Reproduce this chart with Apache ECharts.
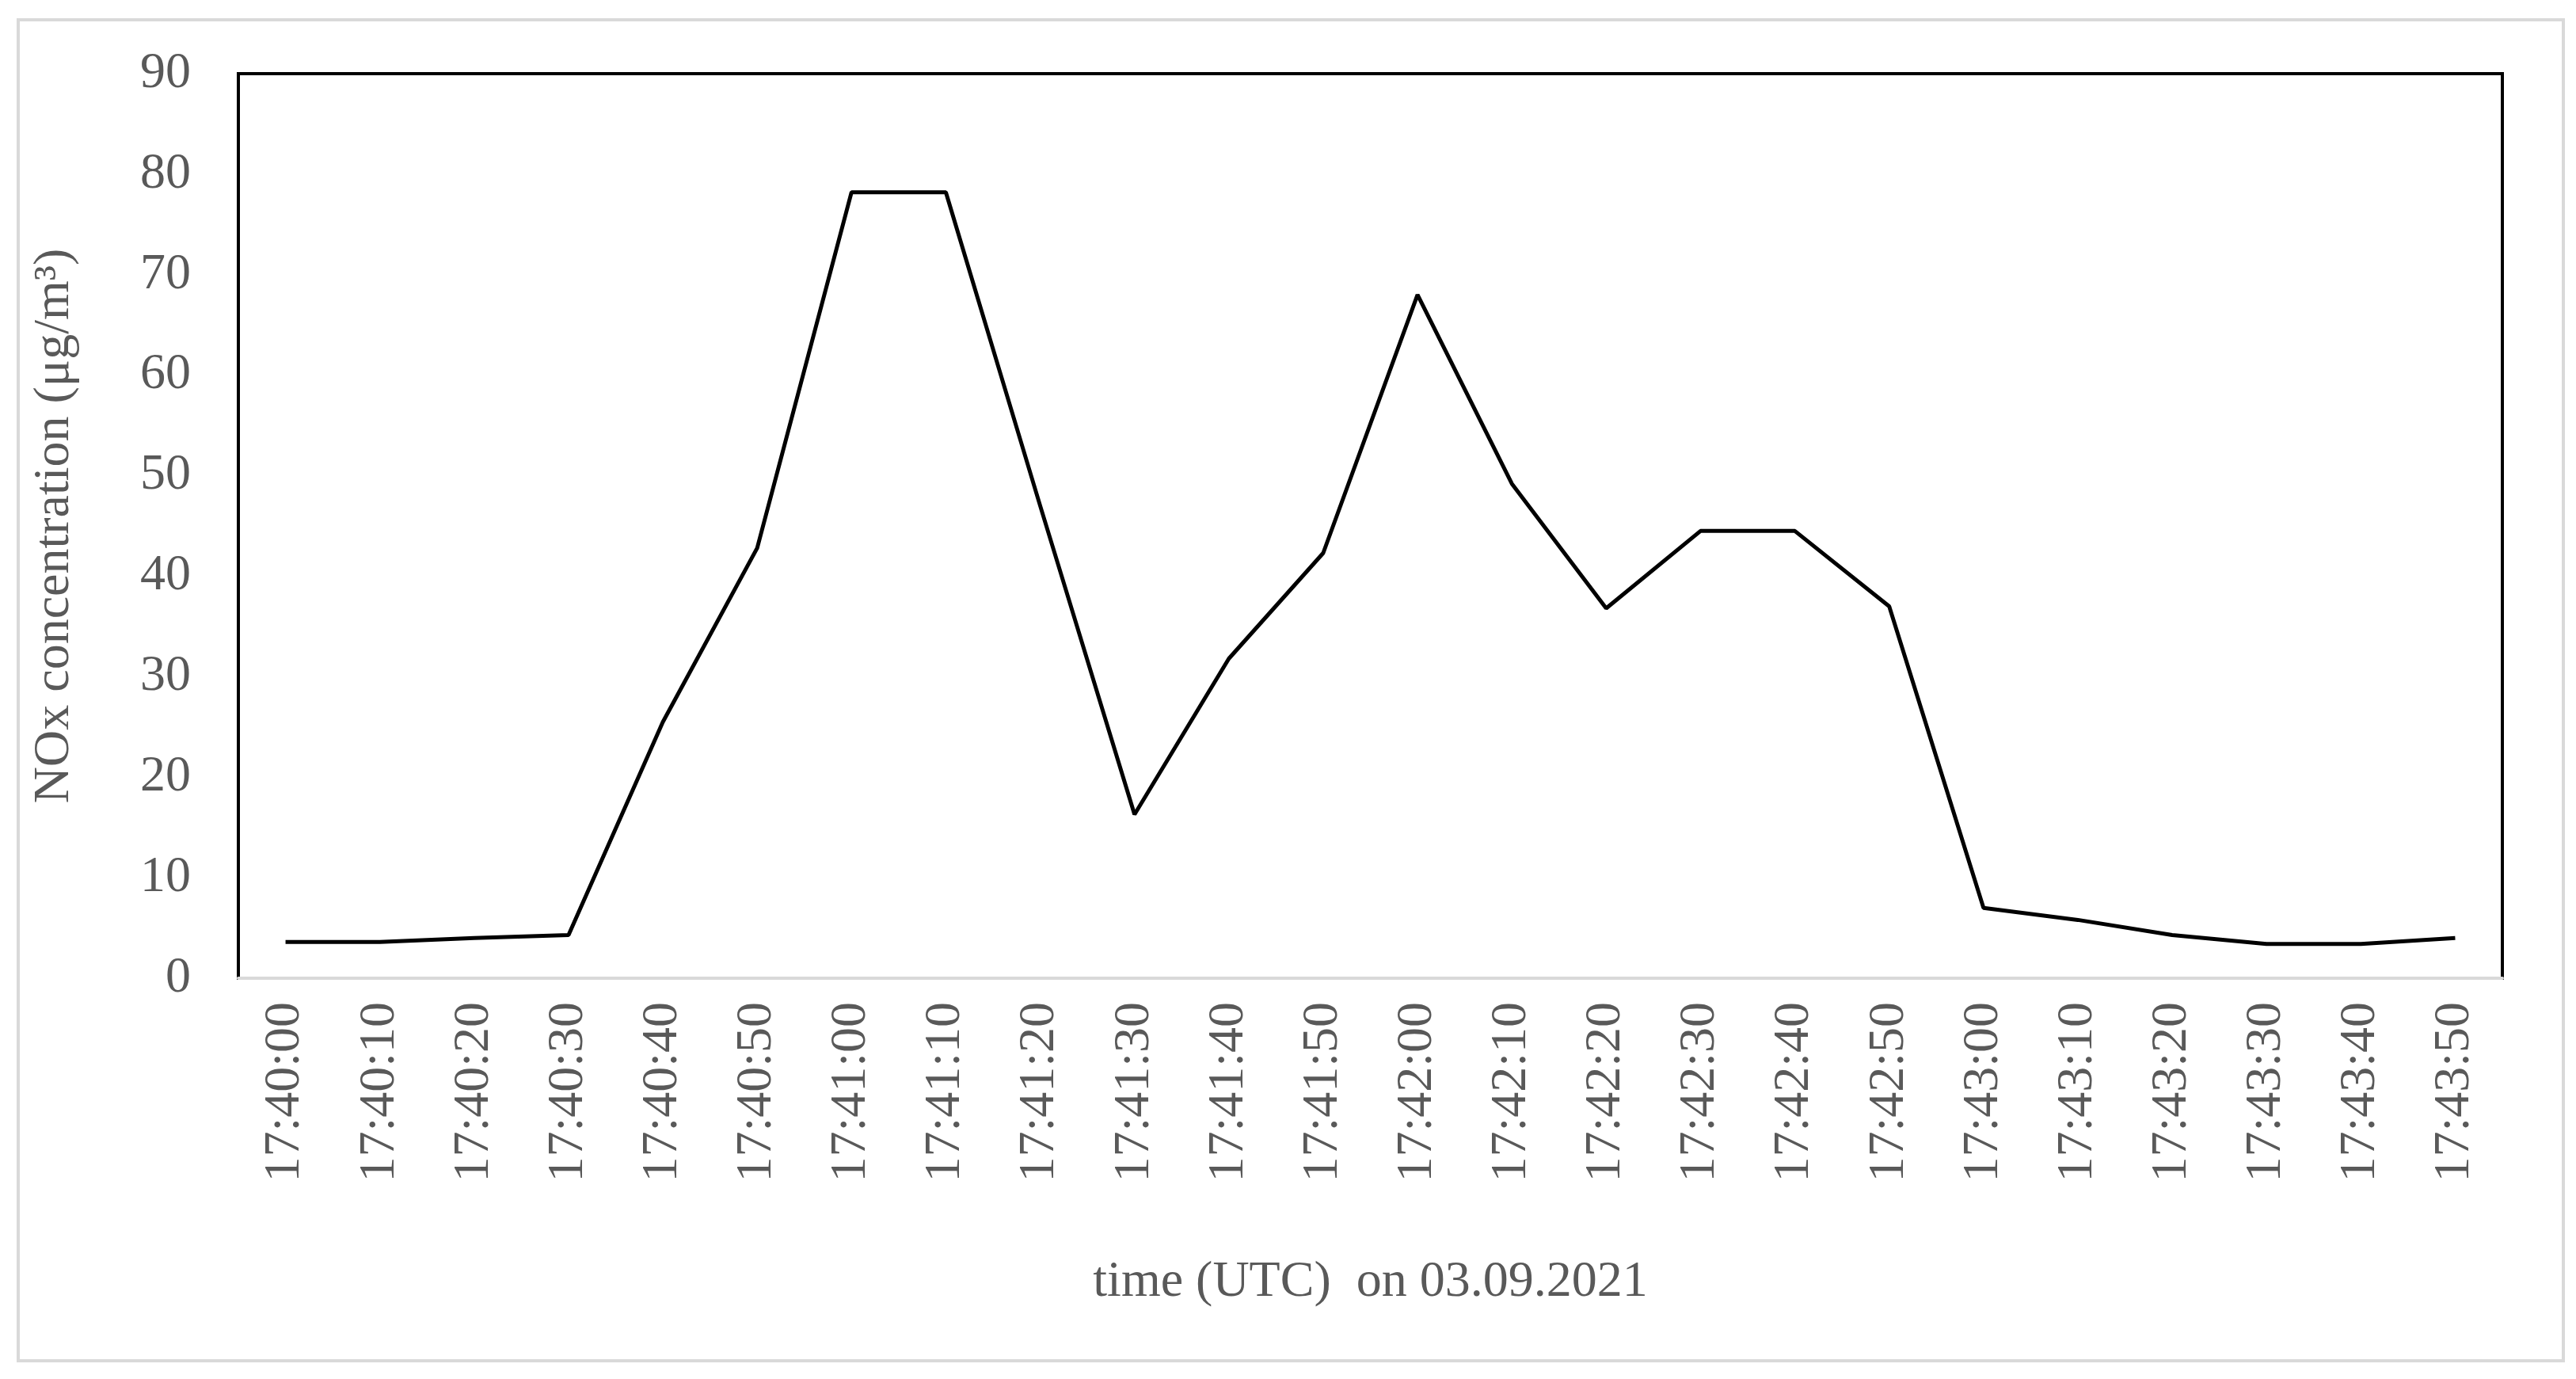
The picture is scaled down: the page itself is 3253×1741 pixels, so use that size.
<!DOCTYPE html>
<html>
<head>
<meta charset="utf-8">
<script src="https://cdn.jsdelivr.net/npm/echarts@6/dist/echarts.min.js"></script>
<style>html,body{margin:0;background:#fff}#c{width:3253px;height:1741px}</style>
</head>
<body>
<div id="c"></div>
<script>
const times = ["17:40:00","17:40:10","17:40:20","17:40:30","17:40:40","17:40:50","17:41:00","17:41:10","17:41:20","17:41:30","17:41:40","17:41:50","17:42:00","17:42:10","17:42:20","17:42:30","17:42:40","17:42:50","17:43:00","17:43:10","17:43:20","17:43:30","17:43:40","17:43:50"];
const nox = [3.6,3.6,4.0,4.3,25.5,42.8,78.2,78.2,47.0,16.3,31.8,42.3,68.0,49.2,36.8,44.5,44.5,37.0,7.0,5.8,4.3,3.4,3.4,4.0];

const font = "Liberation Serif";
const grey = "#595959";
const chart = echarts.init(document.getElementById("c"));
chart.setOption({
  animation: false,
  backgroundColor: "#fff",
  graphic: [{
    type: "rect", shape: { x: 23, y: 25, width: 3214, height: 1693 },
    style: { fill: "none", stroke: "#d9d9d9", lineWidth: 4 }, z: -1
  }],
  grid: { left: 301, top: 93, right: 93, bottom: 506, show: true, borderColor: "#000", borderWidth: 4 },
  xAxis: {
    type: "category", data: times, boundaryGap: true,
    name: "time (UTC)  on 03.09.2021", nameLocation: "middle", nameGap: 352,
    nameTextStyle: { fontFamily: font, fontSize: 64, color: grey },
    axisLine: { lineStyle: { color: "#d9d9d9", width: 4 } },
    axisTick: { show: false },
    axisLabel: { rotate: 90, interval: 0, fontFamily: font, fontSize: 64, color: grey, margin: 30 }
  },
  yAxis: {
    type: "value", min: 0, max: 90, interval: 10,
    name: "NOx concentration (μg/m³)", nameLocation: "middle", nameGap: 200,
    nameTextStyle: { fontFamily: font, fontSize: 64, color: grey },
    axisLine: { show: true, lineStyle: { color: "#000", width: 4 } },
    axisTick: { show: false },
    splitLine: { show: false },
    axisLabel: { fontFamily: font, fontSize: 64, color: grey, margin: 60 }
  },
  series: [{
    type: "line", data: nox, symbol: "none",
    lineStyle: { color: "#000", width: 5 }
  }]
});
</script>
</body>
</html>
